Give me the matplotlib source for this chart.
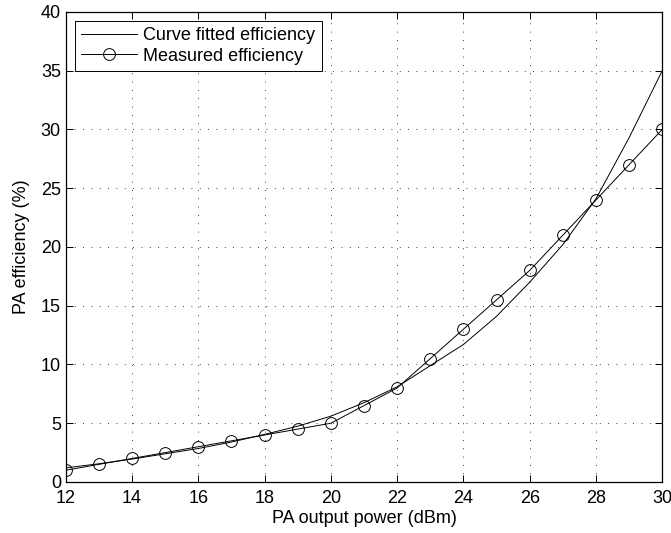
import matplotlib
matplotlib.use("Agg")
import matplotlib.pyplot as plt

# PA output power (dBm)
power_dbm = [12, 13, 14, 15, 16, 17, 18, 19, 20, 21, 22, 23, 24, 25, 26, 27, 28, 29, 30]
fitted_eff = [1.2, 1.55, 1.95, 2.4, 2.85, 3.4, 4.05, 4.75, 5.6, 6.75, 8.1, 9.9,
              11.7, 14.1, 17.0, 20.2, 24.1, 29.3, 35.0]
measured_eff = [1.0, 1.5, 2.0, 2.5, 3.0, 3.5, 4.0, 4.5, 5.0, 6.5, 8.0, 10.5,
                13.0, 15.5, 18.0, 21.0, 24.0, 27.0, 30.0]

x_ticks = list(range(12, 31, 2))
y_ticks = list(range(0, 41, 5))


def main() -> None:
    plt.rcParams["font.family"] = ["Liberation Sans", "DejaVu Sans"]
    plt.rcParams["font.size"] = 13

    fig = plt.figure(figsize=(6.71, 5.33), dpi=100)
    ax = fig.add_axes([0.098, 0.0957, 0.889, 0.882])

    ax.plot(power_dbm, fitted_eff, color="black", lw=0.7, label="Curve fitted efficiency")
    ax.plot(power_dbm, measured_eff, color="black", lw=0.7, marker="o", ms=8.5,
            mfc="none", mec="black", mew=0.7, label="Measured efficiency")

    ax.set_xlim(12, 30)
    ax.set_ylim(0, 40)
    ax.set_xticks(x_ticks)
    ax.set_yticks(y_ticks)
    ax.tick_params(direction="in", top=True, right=True, length=5, width=0.7)
    ax.tick_params(axis="x", pad=6)
    ax.tick_params(axis="y", pad=3.5)
    for sp in ax.spines.values():
        sp.set_linewidth(0.9)
    ax.grid(True, color="black", linestyle=(0, (1, 9)), linewidth=0.6)

    ax.set_xlabel("PA output power (dBm)", labelpad=2)
    ax.set_ylabel("PA efficiency (%)", labelpad=8)

    leg = ax.legend(loc="upper left", bbox_to_anchor=(0.015, 0.981), numpoints=1,
                    handlelength=3.1, fancybox=False, framealpha=1, edgecolor="black",
                    borderaxespad=0, borderpad=0.35, labelspacing=0.2, handletextpad=0.35)
    leg.get_frame().set_linewidth(0.7)

    fig.savefig("out.png", dpi=100)
    plt.close(fig)


if __name__ == "__main__":
    main()
